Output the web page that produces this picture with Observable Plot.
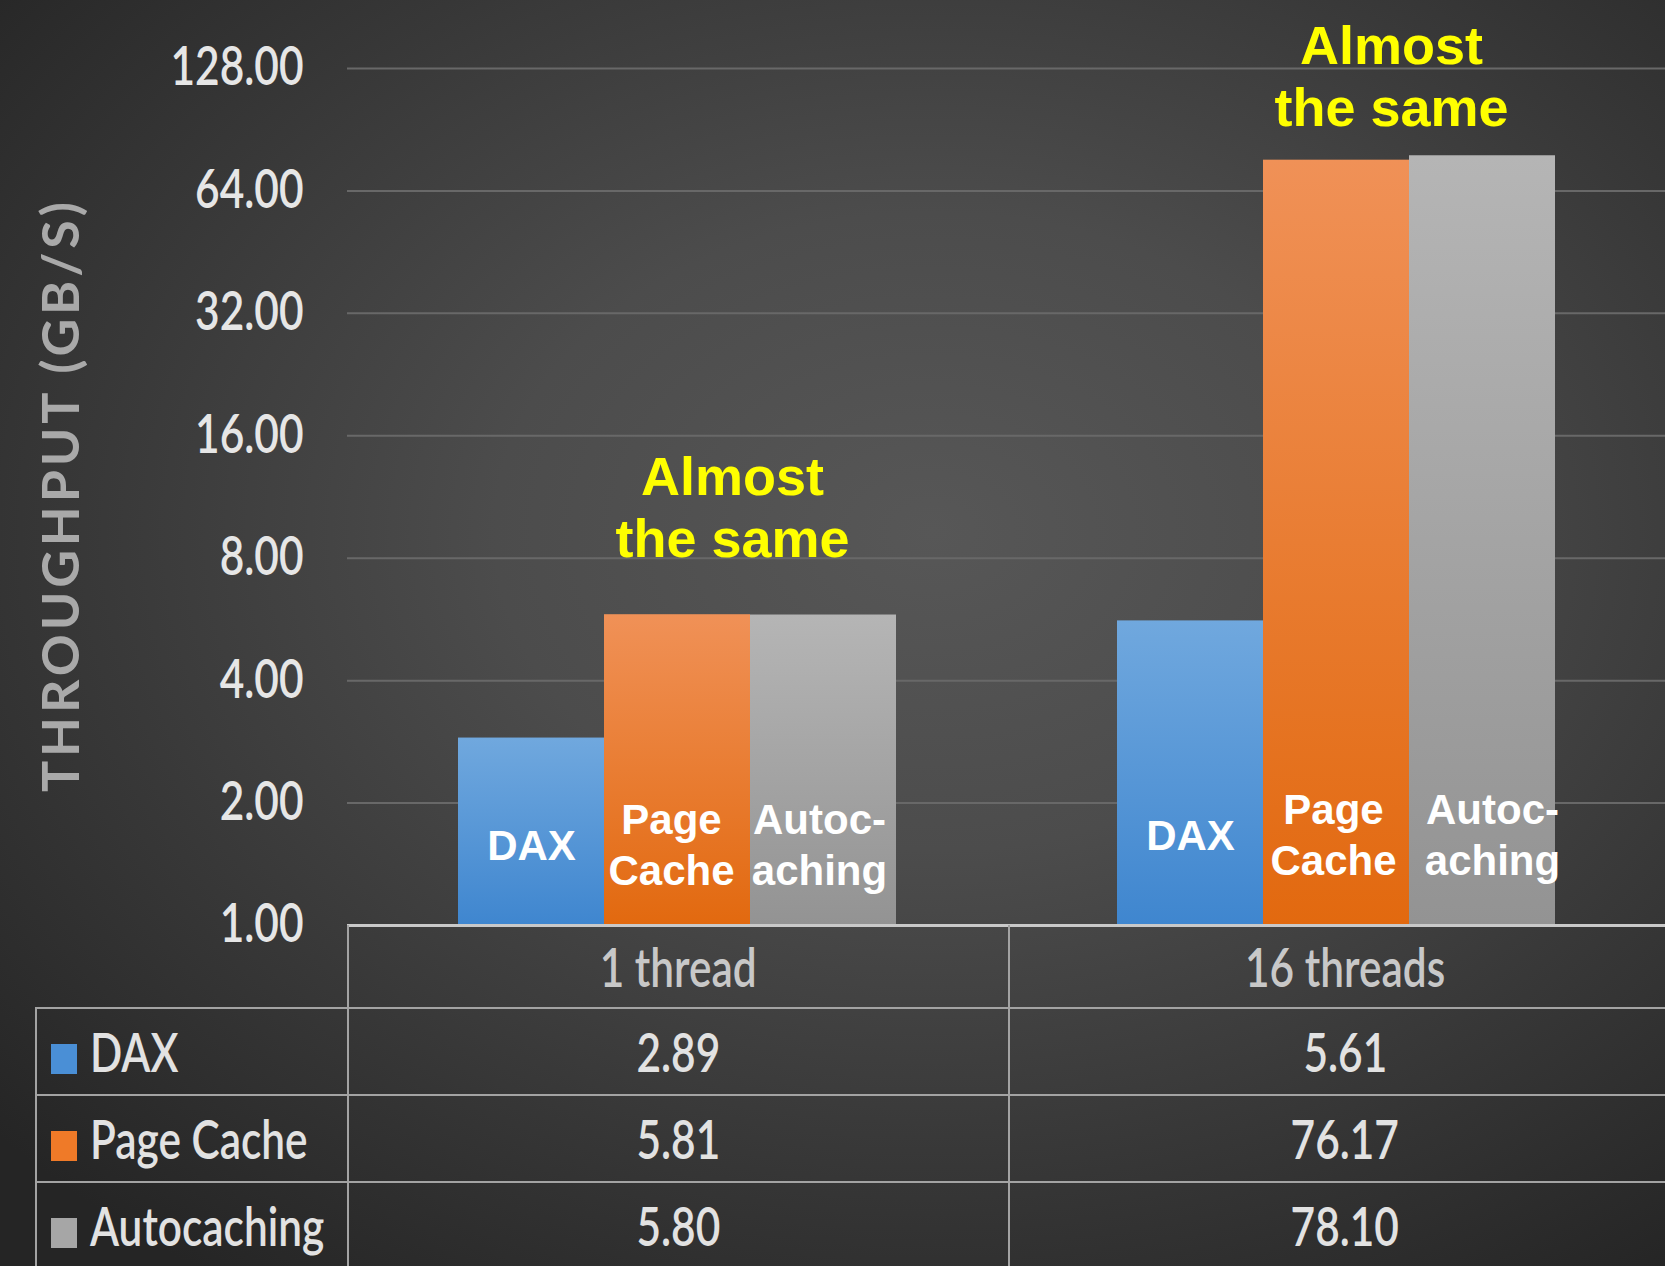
<!DOCTYPE html>
<html>
<head>
<meta charset="utf-8">
<script src="https://cdn.jsdelivr.net/npm/d3@7"></script>
<script src="https://cdn.jsdelivr.net/npm/@observablehq/plot@0.6"></script>
<style>
  html, body { margin: 0; padding: 0; background: #2a2a2a; }
  #wrap {
    position: relative; width: 1665px; height: 1266px; overflow: hidden;
    background: radial-gradient(ellipse 75% 72% at 56% 42%, #575757 0%, #4c4c4c 35%, #383838 68%, #252525 100%);
    font-family: Lato, "Open Sans", sans-serif;
  }
  #chart svg { display: block; }
  #tbl {
    position: absolute; left: 35px; top: 925px;
    border-collapse: collapse; table-layout: fixed; width: 1645px;
    font-size: 53px; font-weight: 600; color: #e2e2e2;
  }
  #tbl td { border: 2px solid #a3a3a3; padding: 0; text-align: center; white-space: nowrap; overflow: hidden; }
  #tbl tr.hdr td { border-top: none; height: 82px; color: #c8c8c8; }
  #tbl tr.hdr td.c0 { border-left: none; }
  #tbl tr.row td { height: 85px; }
  #tbl td.c0 { text-align: left; padding-left: 14px; }
  #tbl .sw { display: inline-block; width: 26px; height: 30px; margin-right: 13px; vertical-align: -2px; }
  #tbl .t { display: inline-block; transform: scaleX(0.8); transform-origin: 50% 50%; }
  #tbl td.c0 .t { transform-origin: 0 50%; }
</style>
</head>
<body>
<div id="wrap">
  <div id="chart"></div>
</div>
<script>
// ---- data ----
const groups = ["1 thread", "16 threads"];
const series = ["DAX", "Page Cache", "Autocaching"];
const daxValues = [2.89, 5.61];
const pageCacheValues = [5.81, 76.17];
const autocachingValues = [5.80, 78.10];
const yTicks = [1, 2, 4, 8, 16, 32, 64, 128];
const barLabels = ["DAX", "Page\nCache", "Autoc-\naching"];
const annotationText = "Almost\nthe same";
const yLabel = "THROUGHPUT (GB/S)";

// ---- derived table ----
const valuesBySeries = [daxValues, pageCacheValues, autocachingValues];
const rows = groups.flatMap((g, i) => series.map((s, j) => ({group: g, series: s, value: valuesBySeries[j][i], label: barLabels[j]})));

// ---- styles ----
const gradStops = [["#70a8de", "#3f86cf"], ["#f09157", "#e2690f"], ["#b5b5b5", "#939393"]];
const swatchColors = ["#4a8fd6", "#ef7a28", "#a6a6a6"];
const barLabelDy = [-82, -92];
const barLabelDx = [[0, -6, -4], [0, -3, 10]];
const annDy = [-109, -81];

const marks = [
  Plot.gridY(yTicks.slice(1), {stroke: "#686868", strokeOpacity: 1, strokeWidth: 2}),
  ...series.map((s, j) => Plot.barY(rows.filter(d => d.series === s), {
    x: "series", fx: "group", y1: 1, y2: "value", fill: `url(#grad${j})`
  })),
  Plot.ruleY([1], {stroke: "#c9c9c9", strokeWidth: 3}),
  Plot.axisY({
    ticks: yTicks, tickFormat: d => d.toFixed(2), tickSize: 0, tickPadding: 44,
    fontSize: 53, fontWeight: 600, label: yLabel, labelArrow: "none", labelAnchor: "center", labelOffset: 305
  }),
  ...groups.flatMap((g, i) => series.map((s, j) => Plot.text(rows.filter(d => d.group === g && d.series === s), {
    x: "series", fx: "group", text: "label", frameAnchor: "bottom", dy: barLabelDy[i], dx: barLabelDx[i][j],
    lineAnchor: "middle", lineHeight: 1.2, fill: "white", fontSize: 42, fontWeight: "bold",
    fontFamily: "'Liberation Sans', Arial, sans-serif", ariaLabel: "bar-label"
  }))),
  ...groups.map((g, i) => {
    const grp = rows.filter(d => d.group === g);
    const top = d3.max(grp, d => d.value);
    return Plot.text([{group: g, series: "Page Cache", value: top}], {
      x: "series", fx: "group", y: "value", text: () => annotationText, dx: 55, dy: annDy[i],
      lineAnchor: "middle", lineHeight: 1.15, fill: "#ffff00", fontSize: 54, fontWeight: "bold",
      fontFamily: "'Liberation Sans', Arial, sans-serif", ariaLabel: "annotation"
    });
  })
];

const plot = Plot.plot({
  width: 1665, height: 927,
  marginLeft: 347, marginRight: 0, marginTop: 68, marginBottom: 2,
  style: {background: "transparent", color: "#e6e6e6", fontFamily: "Lato, 'Open Sans', sans-serif", overflow: "visible"},
  fx: {domain: groups, padding: 0, axis: null, label: null},
  x: {domain: series, paddingInner: 0, paddingOuter: 0.745, axis: null, label: null},
  y: {type: "log", base: 2, domain: [1, 128]},
  marks
});

document.getElementById("chart").appendChild(plot);

const svg = d3.select(plot);
const defs = svg.insert("defs", ":first-child");
gradStops.forEach(([a, b], j) => {
  const g = defs.append("linearGradient").attr("id", "grad" + j)
    .attr("x1", 0).attr("y1", 0).attr("x2", 0).attr("y2", 1);
  g.append("stop").attr("offset", "0%").attr("stop-color", a);
  g.append("stop").attr("offset", "100%").attr("stop-color", b);
});
svg.selectAll('g[aria-label="bar-label"], g[aria-label="annotation"]')
  .style("filter", "drop-shadow(2px 2px 1.5px rgba(0,0,0,0.65))");
// narrow the tick labels (condensed look)
svg.selectAll('g[aria-label="y-axis tick label"] text').each(function () {
  const t = this.getAttribute("transform") || "";
  this.setAttribute("transform", t + " scale(0.8,1)");
});
const lab = svg.select('g[aria-label="y-axis label"]');
lab.attr("font-size", 52).attr("fill", "#a9a9a9").attr("font-weight", "bold");
lab.selectAll("text").text(yLabel).attr("textLength", 590).attr("lengthAdjust", "spacing");

// ---- data table below chart ----
const table = d3.select("#wrap").append("table").attr("id", "tbl");
const cg = table.append("colgroup");
[312, 661, 672].forEach(w => cg.append("col").style("width", w + "px"));
const hdr = table.append("tr").attr("class", "hdr");
hdr.append("td").attr("class", "c0");
groups.forEach(g => hdr.append("td").append("span").attr("class", "t").text(g));
series.forEach((s, j) => {
  const tr = table.append("tr").attr("class", "row");
  const c0 = tr.append("td").attr("class", "c0");
  c0.append("span").attr("class", "sw").style("background", swatchColors[j]);
  c0.append("span").attr("class", "t").text(s);
  groups.forEach((g, i) => tr.append("td").append("span").attr("class", "t").text(valuesBySeries[j][i].toFixed(2)));
});
</script>
</body>
</html>
